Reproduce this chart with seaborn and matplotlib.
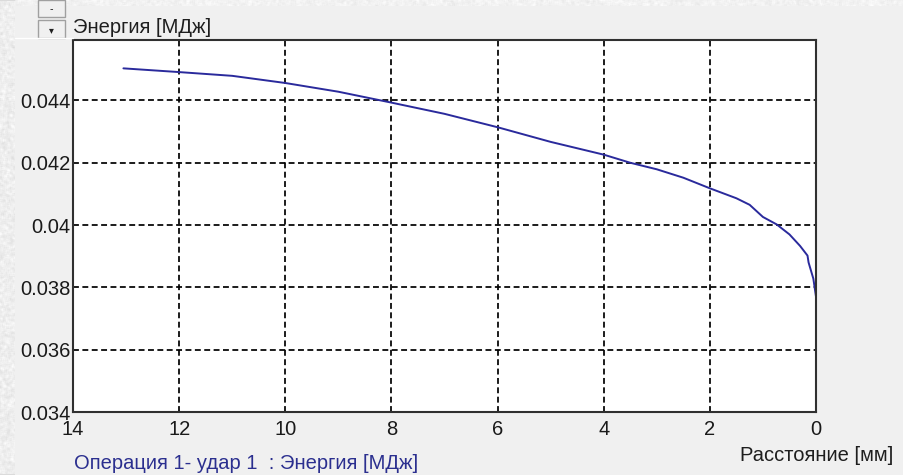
import numpy as np
import pandas as pd
import matplotlib
matplotlib.use("Agg")
import matplotlib.pyplot as plt
from matplotlib.patches import Rectangle
import seaborn as sns

# Energy along the stroke, distance measured back from the end point
distance_mm = [13.05, 12, 11, 10, 9, 8, 7, 6, 5, 4, 3.5, 3, 2.5, 2, 1.5,
               1.25, 1.0, 0.74, 0.5, 0.3, 0.16, 0.14, 0.05, 0.0]
energy_mj = [0.04503, 0.04491, 0.04479, 0.04456, 0.04428, 0.04393, 0.04357,
             0.04314, 0.04267, 0.04226, 0.04200, 0.04179, 0.04152, 0.04118,
             0.04086, 0.04065, 0.04026, 0.04002, 0.03970, 0.03933, 0.03902,
             0.03880, 0.03828, 0.03770]

x_ticks = [14, 12, 10, 8, 6, 4, 2, 0]
y_ticks = [0.034, 0.036, 0.038, 0.040, 0.042, 0.044]
y_tick_labels = ["0.034", "0.036", "0.038", "0.04", "0.042", "0.044"]

title_text = "Энергия [МДж]"
x_label = "Расстояние [мм]"
series_label = "Операция 1- удар 1  : Энергия [МДж]"

sns.set_style("white")
plt.rcParams["font.family"] = ["Liberation Sans", "DejaVu Sans"]

W, H = 904, 475
BG = "#f0f0f0"
FS = 14.5
fig = plt.figure(figsize=(W / 100, H / 100), dpi=100, facecolor=BG)


def fx(px):
    return px / W


def fy(py):
    return 1 - py / H


def smooth(a, k=3):
    # box-blur a 2-D array so the frosted texture looks soft
    kern = np.ones(k) / k
    a = np.apply_along_axis(lambda r: np.convolve(r, kern, mode="same"), 0, a)
    a = np.apply_along_axis(lambda r: np.convolve(r, kern, mode="same"), 1, a)
    return a


# frosted window edge on the left and along the top
rng = np.random.default_rng(3)
edge = smooth(0.935 + 0.05 * rng.standard_normal((H, 17)))[:, 1:16]
edge = np.clip(edge, 0.86, 1.0)
fig.figimage(np.dstack([edge] * 3), xo=0, yo=0, origin="upper", zorder=0)
top = smooth(0.95 + 0.04 * rng.standard_normal((8, W - 13)))[1:7, 1:-1]
top = np.clip(top, 0.89, 1.0)
fig.figimage(np.dstack([top] * 3), xo=15, yo=H - 6, origin="upper", zorder=0)
fig.add_artist(plt.Line2D([fx(15), fx(73)], [fy(37.5), fy(37.5)],
                          color="white", lw=1.0))

# scroll buttons beside the title
for (top_px, bot_px, sym) in [(0, 17, "-"), (20, 38, "▾")]:
    fig.add_artist(Rectangle((fx(38), fy(bot_px)), fx(65) - fx(38),
                             fy(top_px) - fy(bot_px), facecolor="#f0f0f0",
                             edgecolor="#a0a0a0", lw=1.0))
    fig.text(fx(51.5), fy((top_px + bot_px) / 2 + 1), sym, ha="center",
             va="center", fontsize=7, color="#202020",
             family=["DejaVu Sans"])

ax = fig.add_axes([fx(73), fy(412), fx(816) - fx(73), fy(40) - fy(412)])
ax.set_facecolor("white")

df = pd.DataFrame({"distance": distance_mm, "energy": energy_mj})
sns.lineplot(data=df, x="distance", y="energy", ax=ax, color="#2a2a9c",
             lw=1.4, sort=False, estimator=None)

ax.set_xlim(14, 0)
ax.set_ylim(0.034, 0.04594)
ax.set_xticks(x_ticks)
ax.set_xticklabels([str(v) for v in x_ticks])
ax.set_yticks(y_ticks)
ax.set_yticklabels(y_tick_labels)
ax.set_xlabel("")
ax.set_ylabel("")

grid_kw = dict(color="black", lw=1.25, ls=(0, (3.4, 2.0)), zorder=1)
for xv in x_ticks[1:-1]:
    ax.axvline(xv, **grid_kw)
for yv in y_ticks[1:]:
    ax.axhline(yv, **grid_kw)

for sp in ax.spines.values():
    sp.set_color("#303030")
    sp.set_linewidth(1.5)
ax.tick_params(axis="both", length=0, labelsize=FS, colors="#1a1a1a")
ax.tick_params(axis="x", pad=6)
ax.tick_params(axis="y", pad=2)

fig.text(fx(73), fy(33), title_text, ha="left", va="baseline",
         fontsize=FS, color="#1e1e1e")
fig.text(fx(893), fy(461), x_label, ha="right", va="baseline",
         fontsize=FS, color="#1e1e1e")
fig.text(fx(74), fy(469), series_label, ha="left", va="baseline",
         fontsize=FS, color="#2b2f8f")

fig.savefig("out.png", dpi=100, facecolor=BG)
